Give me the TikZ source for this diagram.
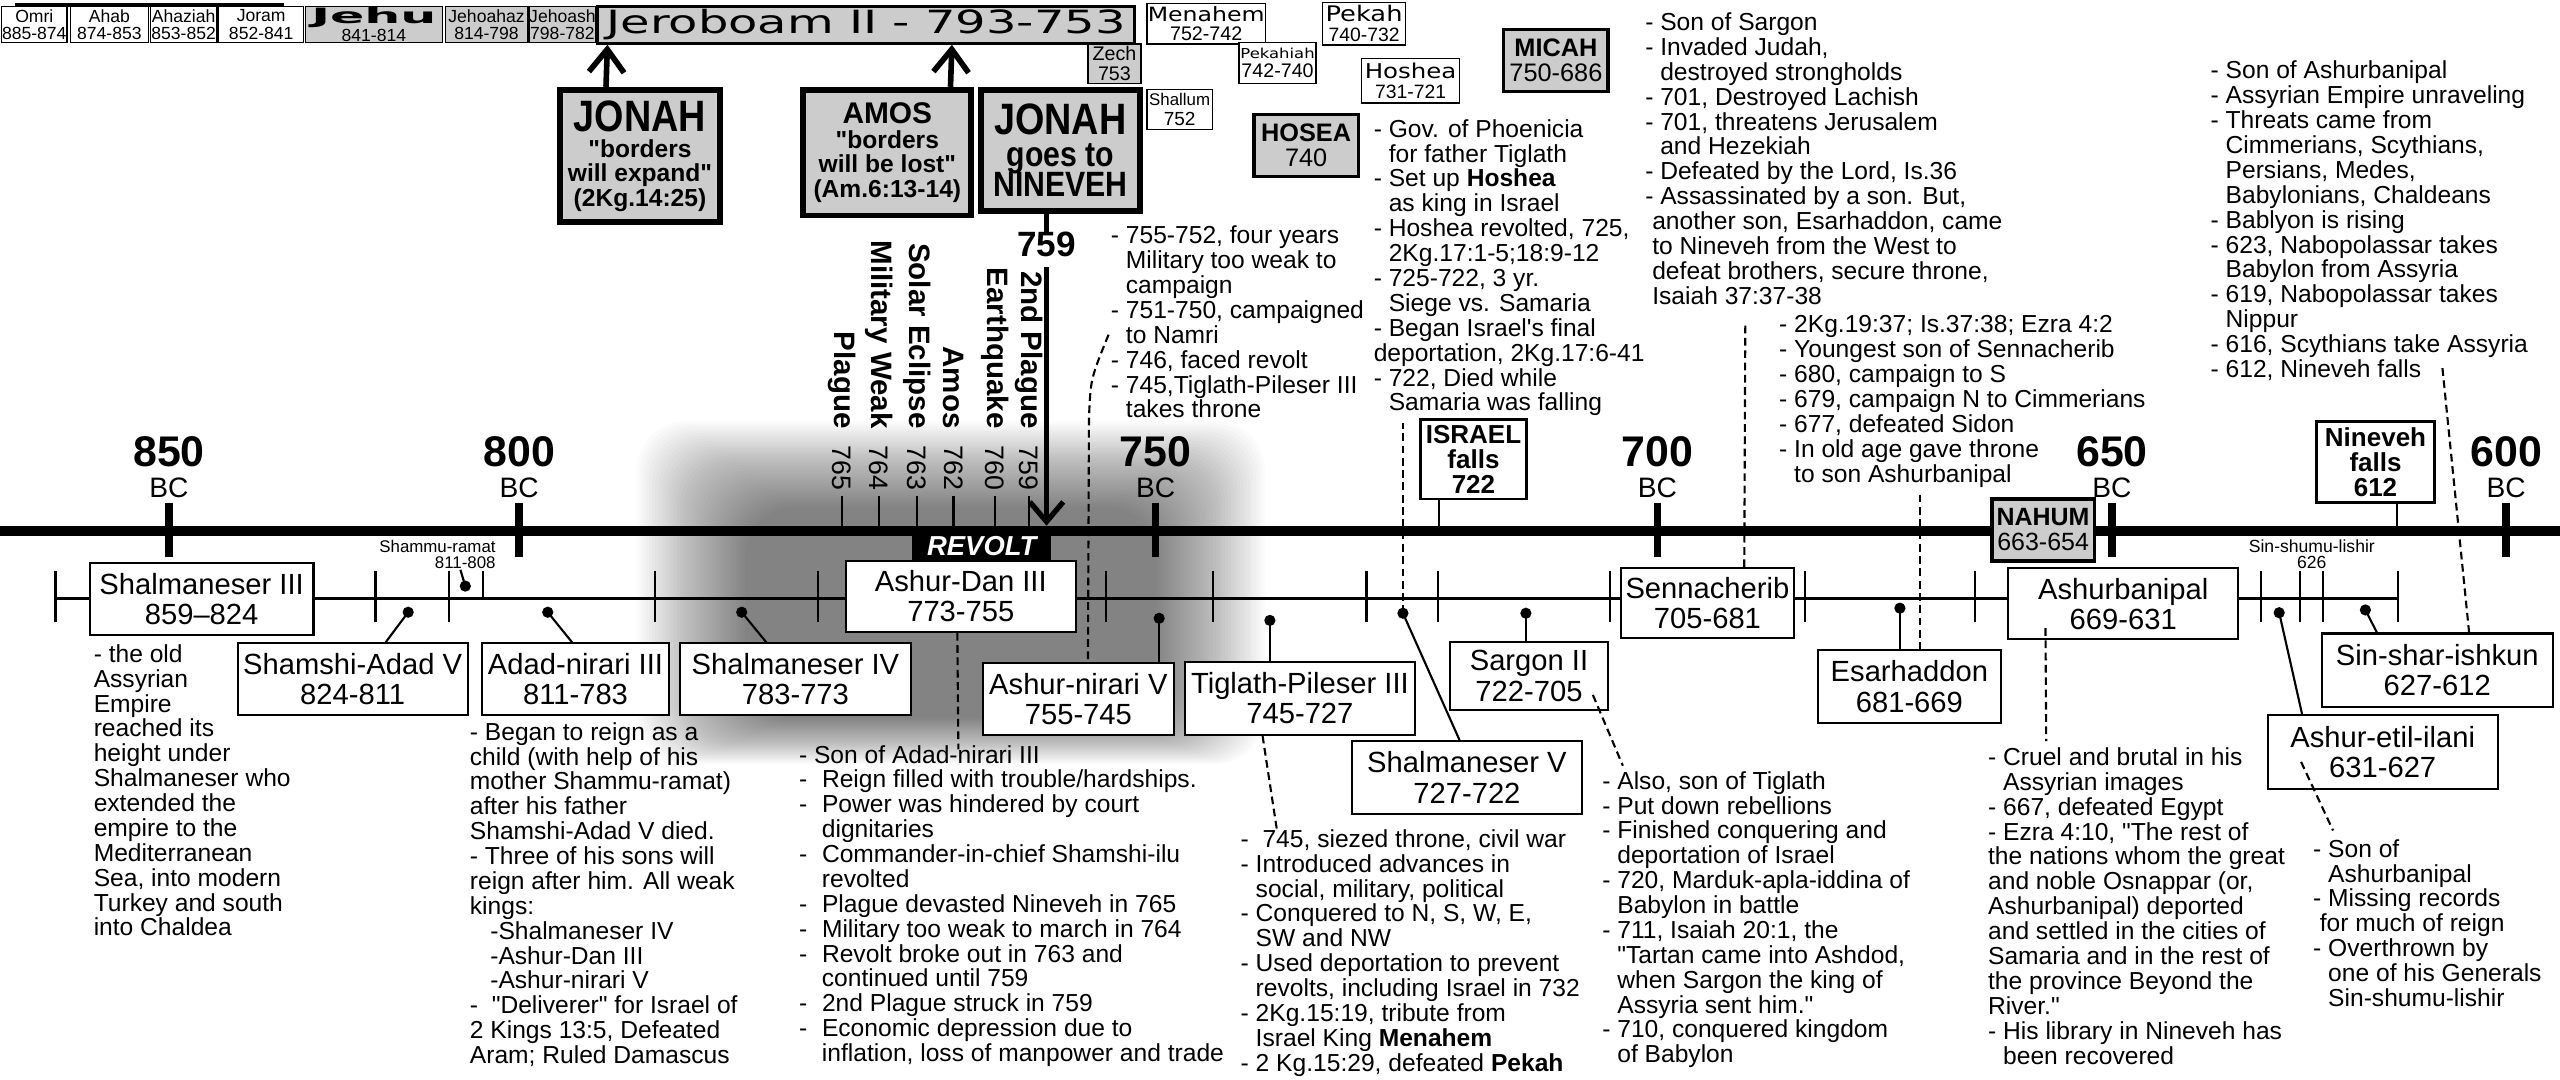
\documentclass[tikz,border=0pt]{standalone}
\usepackage{fontspec}
\setmainfont{Liberation Sans}[Ligatures=TeXOff]
\newfontfamily\widefont[FakeStretch=1.2]{DejaVu Sans}
\newfontfamily\jerofont[FakeStretch=1.5]{DejaVu Sans}
\newfontfamily\jehufont[FakeStretch=2.4]{DejaVu Sans}
\newfontfamily\narrowfont[FakeStretch=0.86]{Liberation Sans}
\usetikzlibrary{arrows.meta,calc}
\lineskiplimit=-20pt
\newcommand\fs[2]{\fontsize{#1}{#2}\selectfont}
\newcommand\hg{\phantom{- }}
\newcommand\wdash{-\hspace{4.2pt}}
\newcommand\wg{\hspace*{6.5pt}}

\begin{document}
\begin{tikzpicture}[x=0.016327cm, y=-0.016327cm,
	sz/.style 2 args={minimum width=#1*0.4645pt, minimum height=#2*0.4645pt},
	kingbox/.style={draw, line width=0.6pt, fill=white, align=center, inner sep=0pt, font=\fs{8.3}{8.6}},
	topbox/.style={draw, line width=0.4pt, fill=white, align=center, inner sep=0pt, font=\fs{5}{4.9}},
	prophet/.style={draw, line width=1pt, fill=black!20, align=center, inner sep=0pt},
	notetext/.style={anchor=north west, align=left, inner sep=0pt, font=\fs{7}{7.08}},
	dashline/.style={line width=0.6pt, dash pattern=on 2.2pt off 1.3pt},
	uparrow/.style={line width=1.6pt, -{Straight Barb[length=6.5pt,width=10pt]}}]

		\fill[white] (0,0) rectangle (1568,661.5);
		\useasboundingbox (0,0) rectangle (1568,661.5);

		% Sombra
		\foreach \i in {0,...,35}
			\fill[black, opacity=0.017, rounded corners=14pt] ({390+1.9*\i},{258+1.5*\i}) rectangle ({775-1.9*\i},{468-0.8*\i});

		% Linea principal
		\coordinate (tlL) at (0,325);
		\coordinate (tlR) at (1568,325);
		\draw[line width=2.85pt] (tlL) -- (tlR);
		\foreach \x/\yr in {103.5/850,318/800,707.8/750,1015.2/700,1293.6/650,1535/600}{
			\draw[line width=2.2pt] (\x,308) -- (\x,341);
			\node[font=\bfseries\fs{12.2}{12}, inner sep=0pt] (y\yr) at (\x,276.5) {\yr};
			\node[font=\fs{8}{8}, inner sep=0pt] (bc\yr) at (\x,298.5) {BC};
		}

		\foreach \x/\ev/\yr in {515.5/Plague/765,538.5/Military Weak/764,561.5/Solar Eclipse/763,584/Amos/762,609.5/Earthquake/760,630/2nd Plague/759}{
			\draw[line width=0.6pt] (\x,304) -- (\x,322);
			\node[rotate=-90, anchor=east, inner sep=0pt, font=\bfseries\fs{8.4}{8.4}] (ev\yr) at (\x,263) {\ev};
			\node[rotate=-90, anchor=east, inner sep=0pt, font=\fs{7.6}{7.6}] (evy\yr) at (\x,300.5) {\yr};
		}
		\node[fill=black, text=white, inner sep=0pt, sz={85.4}{17.4}, font=\bfseries\itshape\fs{7.8}{7.8}] (revolt) at (601.3,334.3) {REVOLT};

		\node[font=\bfseries\fs{10}{10}, inner sep=0pt] (n759) at (641,150) {759};
		\coordinate (a759) at (641,322);
		\draw[line width=1.5pt, shorten <=2.5pt, -{Straight Barb[length=5.6pt,width=9.5pt]}] (n759.south) -- (a759);

		% Reyes de Asiria
		\draw[line width=0.7pt] (34,366.5) -- (1469,366.5);
		\foreach \x in {34,230,275,401,501,677.6,743,837,881,986,1105.5,1209.6,1385,1409,1423,1469}
			\draw[line width=0.6pt] (\x,350) -- (\x,381);
		\draw[line width=0.6pt] (296,350) -- (296,366.5);

		\node[kingbox, sz={137}{44}] (shal3) at (123.5,367) {Shalmaneser III\\859–824};
		\node[kingbox, sz={141}{44}] (shamshi) at (216,416) {Shamshi-Adad V\\824-811};
		\node[kingbox, sz={115}{44}] (adad) at (352.5,416) {Adad-nirari III\\811-783};
		\node[kingbox, sz={141.5}{44}] (shal4) at (487.2,416) {Shalmaneser IV\\783-773};
		\node[kingbox, sz={141}{43.4}] (ashurDan) at (588.5,365.3) {Ashur-Dan III\\773-755};
		\node[kingbox, sz={117}{44}] (nirari) at (660.5,428) {Ashur-nirari V\\755-745};
		\node[kingbox, sz={140.5}{44.4}] (tiglath) at (796.2,427.8) {Tiglath-Pileser III\\745-727};
		\node[kingbox, sz={141}{44.5}] (shal5) at (898.5,476.2) {Shalmaneser V\\727-722};
		\node[kingbox, sz={97}{42}] (sargon) at (936.5,414) {Sargon II\\722-705};
		\node[kingbox, sz={106.4}{43}] (senn) at (1045.8,369.5) {Sennacherib\\705-681};
		\node[kingbox, sz={112}{45}] (esar) at (1169.5,420.5) {Esarhaddon\\681-669};
		\node[kingbox, sz={141}{43.5}] (ashurb) at (1300.5,369.8) {Ashurbanipal\\669-631};
		\node[kingbox, sz={141.7}{45}] (sinshar) at (1492.8,410.5) {Sin-shar-ishkun\\627-612};
		\node[kingbox, sz={140.7}{45}] (etil) at (1459.4,460.5) {Ashur-etil-ilani\\631-627};

		\node[font=\fs{4.8}{4.6}, align=right, inner sep=0pt, anchor=south east] (shammuLbl) at (304,349) {Shammu-ramat\\811-808};
		\node[font=\fs{5}{4.6}, align=center, inner sep=0pt, anchor=south] (sinLbl) at (1416,349) {Sin-shumu-lishir\\626};

		\coordinate (dShamshi) at (250,375);
		\coordinate (dAdad) at (335.5,375);
		\coordinate (dShal4) at (454.3,375);
		\coordinate (dNirari) at (710,378.7);
		\coordinate (dTiglath) at (777.8,380);
		\coordinate (dShal5) at (859.3,375.6);
		\coordinate (dSargon) at (934.6,375.6);
		\coordinate (dEsar) at (1163.7,372.5);
		\coordinate (dEtil) at (1396,375.3);
		\coordinate (dSin) at (1448.8,373.6);
		\coordinate (dShammu) at (285,359);
		\foreach \p in {dShamshi,dAdad,dShal4,dNirari,dTiglath,dShal5,dSargon,dEsar,dEtil,dSin,dShammu}
			\fill (\p) circle (1.6pt);
		\draw[line width=0.6pt] (dShamshi) -- ($(shamshi.north west)+(91.4,0)$);
		\draw[line width=0.6pt] (dAdad) -- ($(adad.north west)+(56,0)$);
		\draw[line width=0.6pt] (dShal4) -- ($(shal4.north west)+(53.5,0)$);
		\draw[line width=0.6pt] (dNirari) -- (dNirari |- nirari.north);
		\draw[line width=0.6pt] (dTiglath) -- (dTiglath |- tiglath.north);
		\draw[line width=0.6pt] (dShal5) -- ($(shal5.north west)+(66.6,0)$);
		\draw[line width=0.6pt] (dSargon) -- (dSargon |- sargon.north);
		\draw[line width=0.6pt] (dEsar) -- (dEsar |- esar.north);
		\draw[line width=0.6pt] (dEtil) -- ($(etil.north west)+(21.6,0)$);
		\draw[line width=0.6pt] (dSin) -- ($(sinshar.north west)+(34.5,0)$);
		\draw[line width=0.6pt] (dShammu) -- ($(shammuLbl.south east)+(-22,0)$);

		% Eventos
		\node[draw, line width=0.8pt, fill=white, align=center, inner sep=0pt, sz={65}{48.6}, font=\bfseries\fs{7.4}{7.1}] (israel) at (902.5,281.3) {ISRAEL\\falls\\722};
		\node[draw, line width=0.8pt, fill=white, align=center, inner sep=0pt, sz={72}{50}, font=\bfseries\fs{7.4}{7.1}] (nineveh) at (1455,283) {Nineveh\\falls\\612};
		\coordinate (israelStem) at ($(israel.south west)+(12,0)$);
		\coordinate (ninevehStem) at ($(nineveh.south west)+(50,0)$);
		\draw[line width=0.6pt] (israelStem) -- (israelStem |- tlL);
		\draw[line width=0.6pt] (ninevehStem) -- (ninevehStem |- tlL);
		\node[prophet, sz={62.8}{38}, font=\fs{7.1}{7.1}] (nahum) at (1251.4,324.6) {{\bfseries NAHUM}\\663-654};

		% Reyes de Israel
		\draw[line width=1pt] (9,3) -- (174,3);
		\node[topbox, sz={40}{22}] (omri) at (21,15) {Omri\\885-874};
		\node[topbox, sz={48}{22}] (ahab) at (67,15) {Ahab\\874-853};
		\node[topbox, sz={41}{22}] (ahaziah) at (112.5,15) {Ahaziah\\853-852};
		\node[topbox, sz={52}{22}] (joram) at (160,15) {Joram\\852-841};
		\node[topbox, fill=black!20, sz={84}{22}] (jehu) at (229,15) {{\jehufont\bfseries\fs{6}{5.6}Jehu}\\841-814};
		\node[topbox, fill=black!20, sz={50}{22}] (jehoahaz) at (298,15) {Jehoahaz\\814-798};
		\node[topbox, fill=black!20, sz={41}{22}] (jehoash) at (344.5,15) {Jehoash\\798-782};
		\node[topbox, fill=black!20, line width=0.9pt, sz={329}{22.5}, font=\jerofont\fs{9.1}{9}] (jeroboam) at (530.5,15.2) {Jeroboam II - 793-753};
		\node[topbox, fill=black!20, sz={32.4}{24}, font=\fs{5.6}{5.7}] (zech) at (682.6,39) {Zech\\753};
		\node[topbox, sz={72.5}{25}, font=\fs{5.6}{5.3}] (menahem) at (738.8,14.5) {{\widefont\fs{5.6}{5.6}Menahem}\\752-742};
		\node[topbox, sz={40}{24.3}, font=\fs{5.4}{5.6}] (shallum) at (722.5,67) {{\fs{4.8}{5}Shallum}\\752};
		\node[topbox, sz={47}{25}, font=\fs{5.6}{5.6}] (pekahiah) at (782.5,38.5) {{\widefont\fs{3.9}{4}Pekahiah}\\742-740};
		\node[topbox, sz={51}{26}, font=\fs{5.5}{5.6}] (pekah) at (835.5,14.5) {{\widefont\fs{6.1}{6}Pekah}\\740-732};
		\node[topbox, sz={60}{27}, font=\fs{5.5}{5.6}] (hoshea) at (864,49.5) {{\widefont\fs{5.8}{6}Hoshea}\\731-721};

		% Profetas
		\node[prophet, line width=1.7pt, sz={98}{81}, font=\bfseries\fs{7}{6.9}] (jonahA) at (392,95.5) {{\narrowfont\fs{12.5}{12}JONAH}\\[0.7pt]"borders\\will expand"\\(2Kg.14:25)};
		\node[prophet, line width=1.7pt, sz={103}{77}, font=\bfseries\fs{7}{7}] (amos) at (543.5,93.5) {{\fs{8.5}{8}AMOS}\\"borders\\will be lost"\\(Am.6:13-14)};
		\node[prophet, line width=1.7pt, sz={97}{74}, font=\narrowfont\bfseries\fs{10}{8.7}] (jonahB) at (649.5,92) {{\fs{12.5}{12}JONAH}\\[0.4pt]goes to\\NINEVEH};
		\node[prophet, sz={64}{38}, font=\fs{7.2}{7}] (micah) at (953,37) {{\bfseries MICAH}\\750-686};
		\node[prophet, sz={64}{38}, font=\fs{7.2}{7}] (hosea) at (800,89) {{\bfseries HOSEA}\\740};
		\draw[uparrow] ($(jonahA.north west)+(30,0)$) -- ($(jeroboam.south west)+(7,0)$);
		\draw[uparrow] ($(amos.north west)+(92,0)$) -- ($(jeroboam.south west)+(218,0)$);
		\draw[line width=1.2pt] (jonahB.south -| n759) -- (n759.north);

		% Notas
		\node[notetext] (shal3Note) at (57,394.3) {- the old\\Assyrian\\Empire\\reached its\\height under\\Shalmaneser who\\extended the\\empire to the\\Mediterranean\\Sea, into modern\\Turkey and south\\into Chaldea};
		\node[notetext] (adadNote) at (287.4,442) {- Began to reign as a\\child (with help of his\\mother Shammu-ramat)\\after his father\\Shamshi-Adad V died.\\- Three of his sons will\\reign after him. All weak\\kings:\\\hspace*{5.8pt}-Shalmaneser IV\\\hspace*{5.8pt}-Ashur-Dan III\\\hspace*{5.8pt}-Ashur-nirari V\\-\ \ "Deliverer" for Israel of\\2 Kings 13:5, Defeated\\Aram; Ruled Damascus};
		\node[notetext] (ashurDanNote) at (489,456) {- Son of Adad-nirari III\\\wdash Reign filled with trouble/hardships.\\\wdash Power was hindered by court\\\wg dignitaries\\\wdash Commander-in-chief Shamshi-ilu\\\wg revolted\\\wdash Plague devasted Nineveh in 765\\\wdash Military too weak to march in 764\\\wdash Revolt broke out in 763 and\\\wg continued until 759\\\wdash 2nd Plague struck in 759\\\wdash Economic depression due to\\\wg inflation, loss of manpower and trade};
		\node[notetext] (tiglathNote) at (759.5,507.6) {-\ \ 745, siezed throne, civil war\\- Introduced advances in\\\hg social, military, political\\- Conquered to N, S, W, E,\\\hg SW and NW\\- Used deportation to prevent\\\hg revolts, including Israel in 732\\- 2Kg.15:19, tribute from\\\hg Israel King \textbf{Menahem}\\- 2 Kg.15:29, defeated \textbf{Pekah}};
		\node[notetext] (sargonNote) at (981,472) {- Also, son of Tiglath\\- Put down rebellions\\- Finished conquering and\\\hg deportation of Israel\\- 720, Marduk-apla-iddina of\\\hg Babylon in battle\\- 711, Isaiah 20:1, the\\\hg "Tartan came into Ashdod,\\\hg when Sargon the king of\\\hg Assyria sent him."\\- 710, conquered kingdom\\\hg of Babylon};
		\node[notetext] (ashurbNote) at (1217.3,457.5) {- Cruel and brutal in his\\\hg Assyrian images\\- 667, defeated Egypt\\- Ezra 4:10, "The rest of\\the nations whom the great\\and noble Osnappar (or,\\Ashurbanipal) deported\\and settled in the cities of\\Samaria and in the rest of\\the province Beyond the\\River."\\- His library in Nineveh has\\\hg been recovered};
		\node[notetext] (etilNote) at (1416.4,513.7) {- Son of\\\hg Ashurbanipal\\- Missing records\\\hspace*{1.9pt}for much of reign\\- Overthrown by\\\hg one of his Generals\\\hg Sin-shumu-lishir};
		\node[notetext] (nirariNote) at (680,138) {- 755-752, four years\\\hg Military too weak to\\\hg campaign\\- 751-750, campaigned\\\hg to Namri\\- 746, faced revolt\\- 745,Tiglath-Pileser III\\\hg takes throne};
		\node[notetext] (shal5Note) at (841,72.7) {- Gov. of Phoenicia\\\hg for father Tiglath\\- Set up \textbf{Hoshea}\\\hg as king in Israel\\- Hoshea revolted, 725,\\\hg 2Kg.17:1-5;18:9-12\\- 725-722, 3 yr.\\\hg Siege vs. Samaria\\- Began Israel's final\\deportation, 2Kg.17:6-41\\- 722, Died while\\\hg Samaria was falling};
		\node[notetext] (sennNote) at (1007.3,7.4) {- Son of Sargon\\- Invaded Judah,\\\hg destroyed strongholds\\- 701, Destroyed Lachish\\- 701, threatens Jerusalem\\\hg and Hezekiah\\- Defeated by the Lord, Is.36\\- Assassinated by a son. But,\\\hspace*{2pt}another son, Esarhaddon, came\\\hspace*{2pt}to Nineveh from the West to\\\hspace*{2pt}defeat brothers, secure throne,\\\hspace*{2pt}Isaiah 37:37-38};
		\node[notetext] (esarNote) at (1089.3,193) {- 2Kg.19:37; Is.37:38; Ezra 4:2\\- Youngest son of Sennacherib\\- 680, campaign to S\\- 679, campaign N to Cimmerians\\- 677, defeated Sidon\\- In old age gave throne\\\hg to son Ashurbanipal};
		\node[notetext] (sinNote) at (1353.6,37) {- Son of Ashurbanipal\\- Assyrian Empire unraveling\\- Threats came from\\\hg Cimmerians, Scythians,\\\hg Persians, Medes,\\\hg Babylonians, Chaldeans\\- Bablyon is rising\\- 623, Nabopolassar takes\\\hg Babylon from Assyria\\- 619, Nabopolassar takes\\\hg Nippur\\- 616, Scythians take Assyria\\- 612, Nineveh falls};

		% Lineas punteadas
		\coordinate (cNir) at (679,205);
		\coordinate (shal5Top) at (859.3,259);
		\coordinate (sennEnd) at (1069,199);
		\coordinate (esarEnd) at (1176,303);
		\coordinate (sinEnd) at (1496,225.5);
		\draw[dashline] ($(ashurDan.south west)+(69,0)$) -- ($(ashurDanNote.north west)+(98,3)$);
		\draw[dashline] (cNir) .. controls (668,232) .. (667,256) -- ($(nirari.north west)+(65,0)$);
		\draw[dashline] (dShal5) -- (shal5Top);
		\draw[dashline] ($(tiglath.south west)+(48,0)$) -- ($(tiglathNote.north west)+(22.5,0)$);
		\draw[dashline] ($(sargon.south east)+(-10,-10)$) -- ($(sargonNote.north west)+(13,-3)$);
		\draw[dashline] ($(senn.north west)+(76.4,0)$) -- (sennEnd);
		\draw[dashline] (esarEnd) -- (esarEnd |- esar.north);
		\draw[dashline] ($(ashurb.south west)+(23.5,-7.5)$) -- ($(ashurbNote.north west)+(36,-3.5)$);
		\draw[dashline] ($(etil.south west)+(21,-17)$) -- ($(etilNote.north west)+(12.6,-5)$);
		\draw[dashline] (sinEnd) -- ($(sinshar.north west)+(91,0)$);

\end{tikzpicture}
\end{document}
